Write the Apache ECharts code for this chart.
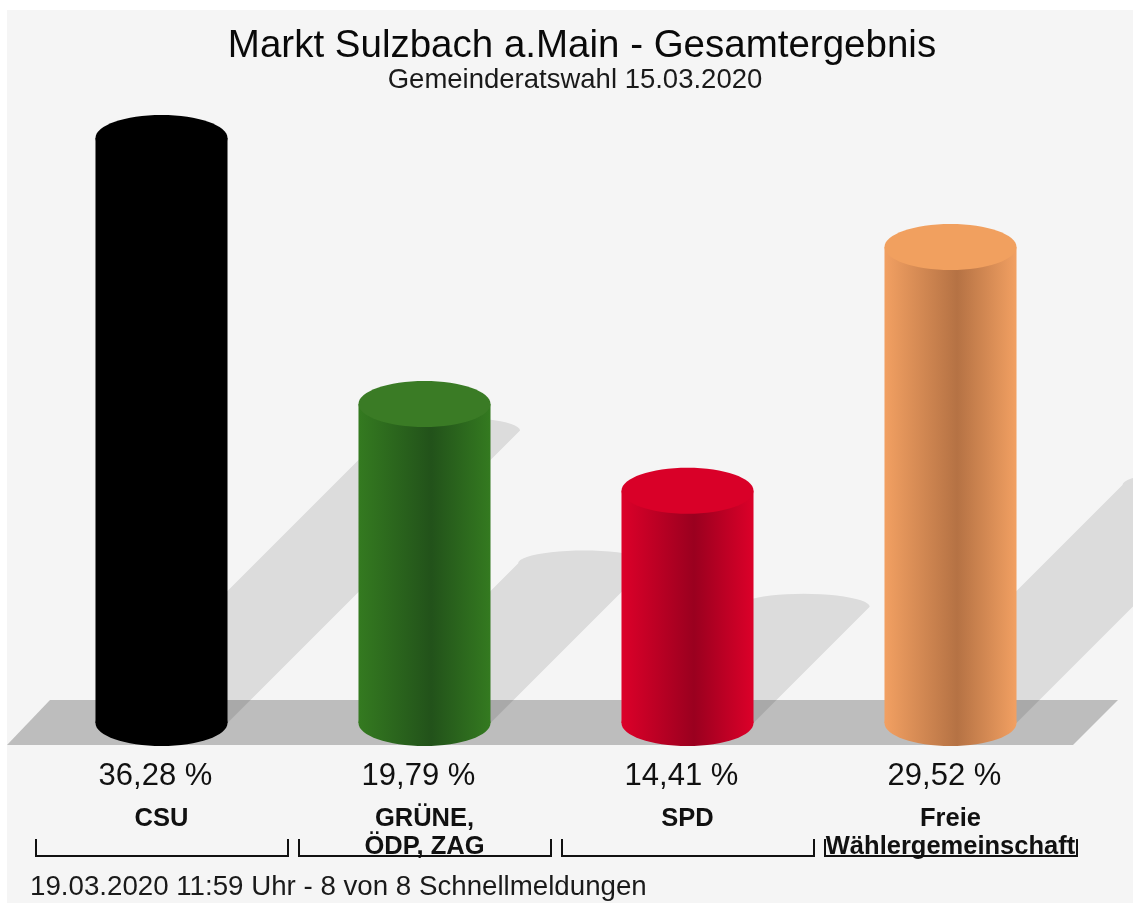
<!DOCTYPE html>
<html>
<head>
<meta charset="utf-8">
<title>Markt Sulzbach a.Main - Gesamtergebnis</title>
<script src="https://cdn.jsdelivr.net/npm/echarts@6/dist/echarts.min.js"></script>
<style>
  html, body { margin: 0; padding: 0; background: #fff; }
  #chart { width: 1133px; height: 909px; }
</style>
</head>
<body>
<div id="chart"></div>
<script>
// Gemeinderatswahl 15.03.2020, Stimmenanteile in %
var parties = ['CSU', 'GRÜNE,\nÖDP, ZAG', 'SPD', 'Freie\nWählergemeinschaft']
var shares = [36.28, 19.79, 14.41, 29.52]

// side colour, middle (dark) colour, top colour
var sideColors = ['#000000', '#347a20', '#dc0029', '#f2a062']
var midColors = ['#000000', '#22521a', '#9a001f', '#b57244']
var topColors = ['#000000', '#3a7b25', '#d90028', '#f1a05f']

var FONT = '"Liberation Sans", Arial, sans-serif'
var RY = 23

function pct(v) {
  return v.toFixed(2).replace('.', ',') + ' %'
}

function renderShadow(params, api) {
  var top = api.coord([api.value(0), api.value(1)])
  var base = api.coord([api.value(0), 0])
  var half = api.size([1, 0])[0] * 0.251
  var d = (base[1] - top[1]) * 0.5
  var pts = [[base[0] - half, base[1]], [base[0] + half, base[1]], [base[0] + half + d, base[1] - d]]
  // rounded end of the shadow
  for (var k = 1; k < 24; k++) {
    var a = Math.PI * k / 24
    pts.push([base[0] + d + half * Math.cos(a), base[1] - d - 13 * Math.sin(a)])
  }
  pts.push([base[0] - half + d, base[1] - d])
  return {
    type: 'polygon',
    shape: { points: pts },
    style: { fill: 'rgba(0,0,0,0.1)' }
  }
}

function renderCylinder(params, api) {
  var i = params.dataIndex
  var top = api.coord([api.value(0), api.value(1)])
  var base = api.coord([api.value(0), 0])
  var bw = api.size([1, 0])[0]
  var half = bw * 0.251
  var grad = new echarts.graphic.LinearGradient(0, 0, 1, 0, [
    { offset: 0, color: sideColors[i] },
    { offset: 0.55, color: midColors[i] },
    { offset: 1, color: sideColors[i] }
  ])
  var bl = base[0] - bw / 2 + 6
  var br = base[0] + bw / 2 - 5
  var by = base[1] + 133
  return {
    type: 'group',
    children: [
      { type: 'ellipse', shape: { cx: base[0], cy: base[1], rx: half, ry: RY }, style: { fill: grad } },
      { type: 'rect', shape: { x: base[0] - half, y: top[1], width: half * 2, height: base[1] - top[1] }, style: { fill: grad } },
      { type: 'ellipse', shape: { cx: top[0], cy: top[1], rx: half, ry: RY }, style: { fill: topColors[i] } },
      {
        type: 'text',
        x: base[0] - 6, y: base[1] + 53,
        style: { text: pct(api.value(1)), font: '31px ' + FONT, fill: '#111', align: 'center', verticalAlign: 'middle' }
      },
      {
        type: 'polyline',
        shape: { points: [[bl, by - 17], [bl, by], [br, by], [br, by - 17]] },
        style: { stroke: '#111', lineWidth: 2, fill: null }
      }
    ]
  }
}

var chart = echarts.init(document.getElementById('chart'))
chart.setOption({
  backgroundColor: '#ffffff',
  animation: false,
  title: [{
    text: 'Markt Sulzbach a.Main - Gesamtergebnis',
    left: 577, top: 22, textAlign: 'center',
    textStyle: { fontFamily: FONT, fontSize: 38.5, fontWeight: 'normal', color: '#0a0a0a' }
  }, {
    text: 'Gemeinderatswahl 15.03.2020',
    left: 570, top: 61, textAlign: 'center',
    textStyle: { fontFamily: FONT, fontSize: 27.5, fontWeight: 'normal', color: '#1a1a1a' }
  }, {
    text: '19.03.2020 11:59 Uhr - 8 von 8 Schnellmeldungen',
    left: 25, top: 868,
    textStyle: { fontFamily: FONT, fontSize: 27.7, fontWeight: 'normal', color: '#1a1a1a' }
  }],
  graphic: [{
    type: 'rect', z: -10, silent: true,
    shape: { x: 7, y: 10, width: 1126, height: 893 },
    style: { fill: '#f5f5f5' }
  }, {
    type: 'polygon', z: -5, silent: true,
    shape: { points: [[7, 745], [50, 700], [1118, 700], [1073, 745]] },
    style: { fill: '#bdbdbd' }
  }],
  grid: { left: 30, right: 51, top: 78, bottom: 186 },
  xAxis: {
    type: 'category',
    data: parties,
    axisLine: { show: false },
    axisTick: { show: false },
    axisLabel: {
      interval: 0,
      margin: 82,
      verticalAlign: 'top',
      lineHeight: 28,
      fontFamily: FONT,
      fontSize: 25.5,
      fontWeight: 'bold',
      color: '#111'
    }
  },
  yAxis: {
    type: 'value',
    min: 0,
    max: 40,
    show: false,
    splitLine: { show: false }
  },
  series: [{
    type: 'custom',
    name: 'Schatten',
    z: 1,
    renderItem: renderShadow,
    data: shares.map(function (v, i) { return [i, v] }),
    encode: { x: 0, y: 1 },
    silent: true
  }, {
    type: 'custom',
    name: 'Stimmenanteil',
    z: 3,
    renderItem: renderCylinder,
    data: shares.map(function (v, i) { return [i, v] }),
    encode: { x: 0, y: 1 }
  }]
})
</script>
</body>
</html>
